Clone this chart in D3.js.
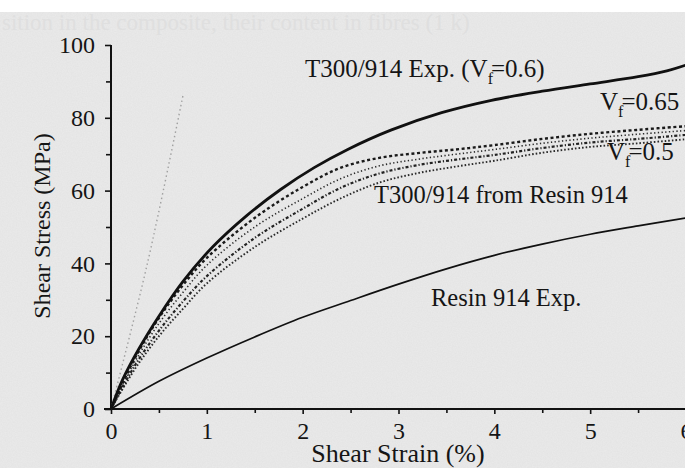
<!DOCTYPE html>
<html>
<head>
<meta charset="utf-8">
<script src="https://cdn.jsdelivr.net/npm/d3@7"></script>
<style>
  body { margin: 0; background: #fff; }
  svg { display: block; }
  text { font-family: "Liberation Serif", "Times New Roman", serif; fill: #151515; }
</style>
</head>
<body>
<svg id="chart" width="685" height="468"></svg>
<script>
// tick values
const xTicks = [0, 1, 2, 3, 4, 5, 6];
const xMinor = [0.5, 1.5, 2.5, 3.5, 4.5, 5.5];
const yTicks = [0, 20, 40, 60, 80, 100];
const yMinor = [10, 30, 50, 70, 90];

// [strain %, stress MPa]
const t300Exp = [[0,0],[0.12,8],[0.29,16.5],[0.5,25.5],[0.75,35],[1.06,44.5],[1.41,53],[1.77,60.3],
  [2.12,66.3],[2.47,71.3],[2.92,76.6],[3.45,81.4],[3.97,84.8],[4.5,87.3],[5.0,89.3],[5.5,91.3],
  [5.8,92.9],[6.0,94.5]];
const model065 = [[0,0],[0.25,14],[0.5,25],[0.75,34],[1.0,41.5],[1.5,52.5],[2.0,61],[2.4,66.3],
  [2.8,69],[3.2,70.3],[3.6,71.3],[4.0,72.5],[4.5,74.2],[5.0,75.6],[5.5,76.7],[6.0,77.7]];
const model060 = [[0,0],[0.25,13],[0.5,23.5],[0.75,32],[1.0,39.5],[1.5,50],[2.0,57.8],[2.4,63.3],
  [2.8,66.8],[3.2,68.6],[3.6,70],[4.0,71.3],[4.5,73],[5.0,74.4],[5.5,75.5],[6.0,76.5]];
const model055 = [[0,0],[0.25,12],[0.5,21.5],[0.75,29.5],[1.0,36.5],[1.5,47],[2.0,55],[2.4,60.8],
  [2.8,64.7],[3.2,67],[3.6,68.5],[4.0,69.8],[4.5,71.7],[5.0,73.2],[5.5,74.2],[6.0,75.3]];
const model050 = [[0,0],[0.25,11],[0.5,20],[0.75,27.5],[1.0,34.5],[1.5,44.5],[2.0,52.3],[2.4,57.9],
  [2.8,62.2],[3.2,64.8],[3.6,66.6],[4.0,68.2],[4.5,70.4],[5.0,72],[5.5,73],[6.0,74.1]];
const resinExp = [[0,0],[0.5,7.6],[1.0,14],[1.5,19.8],[2.0,25.2],[2.5,29.8],[3.0,34.3],
  [3.5,38.5],[4.0,42.2],[4.5,45.3],[5.0,48],[5.5,50.3],[6.0,52.5]];
const initSlope = [[0,0],[0.38,40],[0.75,86]];

const svg = d3.select('#chart');

// scanned paper background
const defs = svg.append('defs');
const f = defs.append('filter').attr('id', 'paper').attr('x', 0).attr('y', 0)
  .attr('width', '100%').attr('height', '100%');
f.append('feTurbulence').attr('type', 'fractalNoise').attr('baseFrequency', 0.8)
  .attr('numOctaves', 2).attr('seed', 3);
f.append('feColorMatrix').attr('type', 'matrix')
  .attr('values', '0 0 0 0 0.5  0 0 0 0 0.5  0 0 0 0 0.5  0 0 0 0.35 -0.08');
svg.append('rect').attr('x', 0).attr('y', 12).attr('width', 685).attr('height', 456).attr('fill', '#e9e9e9');
svg.append('rect').attr('x', 0).attr('y', 12).attr('width', 685).attr('height', 456)
  .attr('filter', 'url(#paper)').attr('opacity', 0.5);

// bleed-through from the page behind
svg.append('text').attr('x', 2).attr('y', 30).style('font-size', '23px').style('fill', '#dfdfdf')
  .text('sition in the composite, their content in fibres (1 k)');

const x = d3.scaleLinear().domain([0, 6]).range([111, 686]);
const y = d3.scaleLinear().domain([0, 100]).range([409, 45]);

// axes
const gx = svg.append('g').attr('transform', `translate(0,${y(0)})`);
gx.call(d3.axisBottom(x).tickValues(xTicks).tickSize(5).tickPadding(5).tickFormat(d3.format('d')));
gx.append('g').call(d3.axisBottom(x).tickValues(xMinor).tickSize(4).tickFormat(''));
gx.selectAll('.domain').remove();
gx.append('line').attr('x1', 104).attr('x2', 685).attr('stroke', '#111').attr('stroke-width', 2);

const gy = svg.append('g').attr('transform', `translate(${x(0)},0)`);
gy.call(d3.axisLeft(y).tickValues(yTicks).tickSize(6).tickPadding(10));
gy.append('g').call(d3.axisLeft(y).tickValues(yMinor).tickSize(5).tickFormat(''));
gy.selectAll('.domain').remove();
gy.append('line').attr('y1', y(100)).attr('y2', y(0) + 1).attr('stroke', '#111').attr('stroke-width', 2);

svg.selectAll('.tick line').attr('stroke', '#111').attr('stroke-width', 1.6);
svg.selectAll('.tick text').style('font-size', '24px').style('fill', '#151515').attr('font-family', null);
gx.selectAll('.tick text').attr('dy', '0.85em');

// axis titles
svg.append('text').attr('x', 398).attr('y', 462).attr('text-anchor', 'middle')
  .style('font-size', '26px').text('Shear Strain (%)');
svg.append('text').attr('transform', 'translate(50,226) rotate(-90)').attr('text-anchor', 'middle')
  .style('font-size', '24px').text('Shear Stress (MPa)');

// curves
const line = d3.line().x(d => x(d[0])).y(d => y(d[1])).curve(d3.curveCatmullRom.alpha(0.5));
const series = [
  { data: initSlope, w: 1.4, dash: '1.5,3', col: '#a0a0a0' },
  { data: resinExp, w: 1.7, dash: null, col: '#111' },
  { data: model050, w: 1.9, dash: '1.6,2', col: '#2a2a2a' },
  { data: model055, w: 2.2, dash: '3,2,1.2,2', col: '#222' },
  { data: model060, w: 1.6, dash: '1.3,2.4', col: '#2a2a2a' },
  { data: model065, w: 2.4, dash: '3,2.6', col: '#1a1a1a' },
  { data: t300Exp, w: 2.8, dash: null, col: '#111' }
];
svg.append('g').selectAll('path').data(series).join('path')
  .attr('d', d => line(d.data))
  .attr('fill', 'none')
  .attr('stroke', d => d.col)
  .attr('stroke-width', d => d.w)
  .attr('stroke-dasharray', d => d.dash);

// annotations
function vfText(px, py, pre, post) {
  const t = svg.append('text').attr('x', px).attr('y', py).style('font-size', '25px');
  t.append('tspan').text(pre + 'V');
  t.append('tspan').attr('dy', 7).attr('dx', 0).style('font-size', '16px').text('f');
  t.append('tspan').attr('dy', -7).attr('dx', -2).text(post);
}
vfText(305, 77, 'T300/914 Exp. (', '=0.6)');
vfText(600, 110, '', '=0.65');
vfText(607, 160, '', '=0.5');

svg.append('text').attr('x', 374).attr('y', 203).style('font-size', '24.5px').text('T300/914 from Resin 914');
svg.append('text').attr('x', 431).attr('y', 306).style('font-size', '24.5px').text('Resin 914 Exp.');
</script>
</body>
</html>
